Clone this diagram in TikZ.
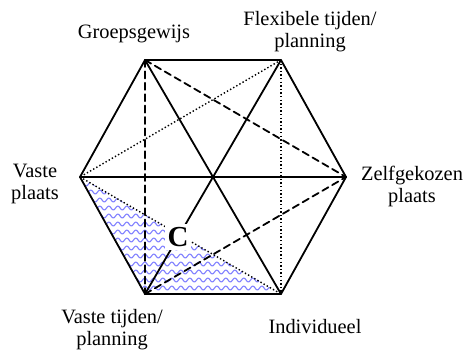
\documentclass[tikz,border=0pt]{standalone}
\usepackage{fontspec}
\setmainfont{Liberation Serif}
\usetikzlibrary{calc,decorations.pathmorphing}

\begin{document}
\begin{tikzpicture}[
  x=0.5pt,y=-0.5pt,
  line cap=round,line join=round
]
  \tikzset{
    edge/.style={line width=0.9pt,draw=black},
    dashedge/.style={line width=0.9pt,dash pattern=on 3.5pt off 2.2pt},
    dotedge/.style={line width=0.7pt,dash pattern=on 0.7pt off 1.1pt,line cap=butt},
    lbl/.style={align=center,font=\fontsize{10.2}{11}\selectfont,inner sep=0pt},
    wave/.style={draw=blue!50!white,line width=0.55pt,decorate,
      decoration={snake,segment length=4.5pt,amplitude=1pt}}
  }
  \useasboundingbox (0,0) rectangle (465,350);

  % Corner points of the hexagon
  \coordinate (TL) at (145,60);
  \coordinate (TR) at (281,60);
  \coordinate (R)  at (346,177);
  \coordinate (BR) at (281,294);
  \coordinate (BL) at (145,294);
  \coordinate (L)  at (80,177);
  \coordinate (M)  at (213,177);

  % Shaded triangle
  \begin{scope}
    \clip (L) -- (BL) -- (BR) -- cycle;
    \foreach \yy in {176,184,...,298}
      \draw[wave] (70,\yy) -- (295,\yy);
  \end{scope}

  % Dotted and dashed chords
  \draw[dotedge] (TR) -- (BR);
  \draw[dotedge] (TR) -- (L);
  \draw[dotedge] (L) -- (BR);
  \draw[dashedge] (TL) -- (BL);
  \draw[dashedge] (TL) -- (R);
  \draw[dashedge] (BL) -- (R);

  % Outline and main diagonals
  \draw[edge] (TL) -- (TR) -- (R) -- (BR) -- (BL) -- (L) -- cycle;
  \draw[edge] (TL) -- (BR);
  \draw[edge] (TR) -- (BL);
  \draw[edge] (L) -- (R);

  % Labels
  \node[lbl] (groep) at (134,34) {Groepsgewijs};
  \node[lbl] (flex)  at (310,32) {Flexibele tijden/\\planning};
  \node[lbl] (vplaats) at (35,184) {Vaste\\plaats};
  \node[lbl] (zplaats) at (412,186) {Zelfgekozen\\plaats};
  \node[lbl] (vtijden) at (112,330) {Vaste tijden/\\planning};
  \node[lbl] (indiv) at (315,327) {Individueel};

  \node[fill=white,inner sep=1.5pt,font=\fontsize{14.5}{15}\selectfont\bfseries] (C) at (178,237) {C};
\end{tikzpicture}
\end{document}
